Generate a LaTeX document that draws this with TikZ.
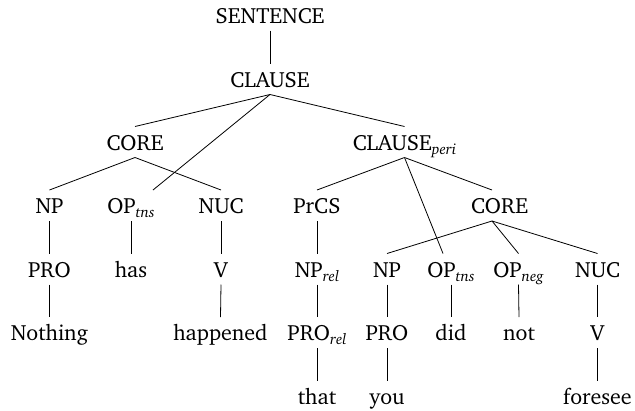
\documentclass[tikz,border=0pt]{standalone}
\usepackage[T1]{fontenc}
\usepackage{charter}
\newcommand{\lowsub}[1]{\raisebox{-4pt}{\fontsize{15}{15}\selectfont\itshape #1}}
\tikzset{
  lbl/.style={anchor=base, inner sep=0pt, font=\fontsize{22}{26}\selectfont},
  branch/.style={line width=0.8pt, black},
}
% edge from parent (below its baseline) to child (above its caps)
\newcommand{\edge}[4]{\draw[branch] ([xshift=#2pt,yshift=-7.5pt]#1.base) -- ([xshift=#4pt,yshift=23.5pt]#3.base);}
\begin{document}
\begin{tikzpicture}[x=1pt,y=-1pt]
\useasboundingbox (0,0) rectangle (635,410);
% row 0-2
\node[lbl] (s)     at (270,23)    {SENTENCE};
\node[lbl] (cl)    at (270,87)    {CLAUSE};
\node[lbl] (core1) at (135,150)   {CORE};
\node[lbl] (clp)   at (404.5,150) {CLAUSE\lowsub{peri}};
% row 3
\node[lbl] (np1)   at (49.5,213.5)  {NP};
\node[lbl] (opt1)  at (131,213.5)   {OP\lowsub{tns}};
\node[lbl] (nuc1)  at (221,213.5)   {NUC};
\node[lbl] (prcs)  at (317,213.5)   {PrCS};
\node[lbl] (core2) at (499.5,213.5) {CORE};
% row 4
\node[lbl] (pro1)  at (49.5,277)  {PRO};
\node[lbl] (has)   at (131,277)   {has};
\node[lbl] (v1)    at (221,277)   {V};
\node[lbl] (nprel) at (317,277)   {NP\lowsub{rel}};
\node[lbl] (np2)   at (387,277)   {NP};
\node[lbl] (opt2)  at (451,277)   {OP\lowsub{tns}};
\node[lbl] (opn)   at (518.5,277) {OP\lowsub{neg}};
\node[lbl] (nuc2)  at (597.5,277) {NUC};
% row 5
\node[lbl] (nothing)  at (49.5,340.5)  {Nothing};
\node[lbl] (happened) at (220.5,340.5) {happened};
\node[lbl] (prorel)   at (317,340.5)   {PRO\lowsub{rel}};
\node[lbl] (pro2)     at (387,340.5)   {PRO};
\node[lbl] (did)      at (451,340.5)   {did};
\node[lbl] (not)      at (519,340.5)   {not};
\node[lbl] (v2)       at (597.5,340.5) {V};
% row 6
\node[lbl] (that)    at (317,404)   {that};
\node[lbl] (you)     at (387,404)   {you};
\node[lbl] (foresee) at (597.5,404) {foresee};
% branches
\edge{s}{0}{cl}{0}
\edge{cl}{0}{core1}{0}
\edge{cl}{0}{opt1}{22}
\edge{cl}{0}{clp}{0}
\edge{core1}{0}{np1}{0}
\edge{core1}{0}{nuc1}{0}
\edge{clp}{0}{prcs}{0}
\edge{clp}{0}{core2}{-7.5}
\edge{clp}{0}{opt2}{-8}
\edge{core2}{-7.5}{np2}{0}
\edge{core2}{-7.5}{opn}{0}
\edge{core2}{-7.5}{nuc2}{0}
\edge{np1}{0}{pro1}{0}
\edge{opt1}{0}{has}{0}
\edge{nuc1}{0}{v1}{0}
\edge{prcs}{0}{nprel}{0}
\edge{np2}{0}{pro2}{0}
\edge{opt2}{0}{did}{0}
\edge{opn}{0}{not}{0}
\edge{nuc2}{0}{v2}{0}
\edge{pro1}{0}{nothing}{0}
\edge{v1}{0}{happened}{0}
\edge{nprel}{0}{prorel}{0}
\edge{prorel}{0}{that}{0}
\edge{pro2}{0}{you}{0}
\edge{v2}{0}{foresee}{0}
\end{tikzpicture}
\end{document}
